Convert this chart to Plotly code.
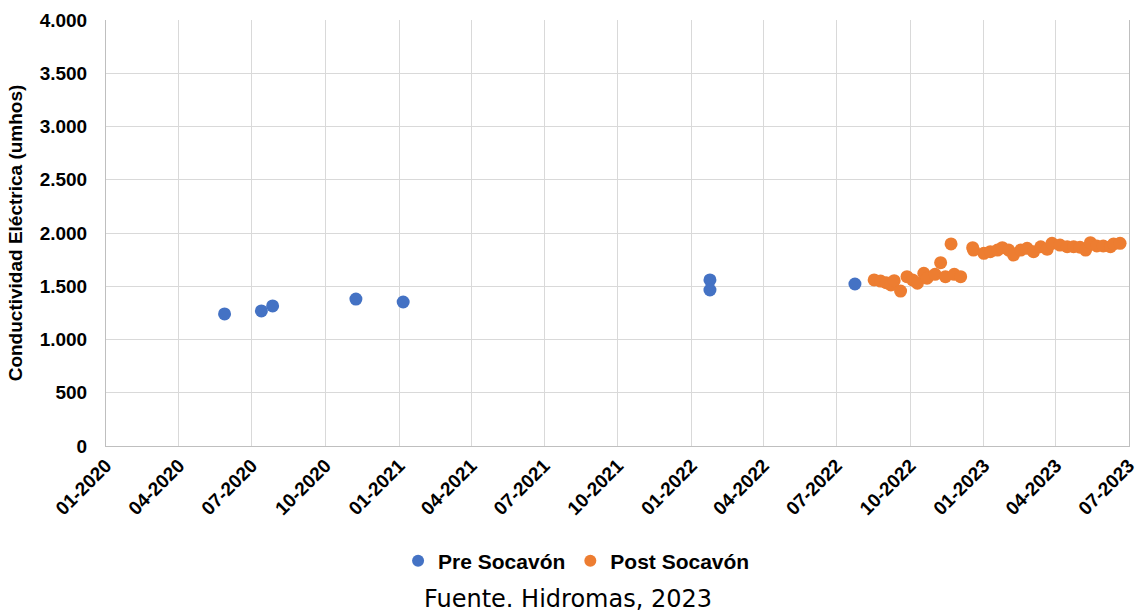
import plotly.graph_objects as go

pre_dates = ["2020-05-28", "2020-07-13", "2020-07-27", "2020-11-08", "2021-01-06",
             "2022-01-24", "2022-01-24", "2022-07-24"]
pre_values = [1240, 1268, 1315, 1380, 1352, 1559, 1465, 1521]

post_dates = ["2022-08-17", "2022-08-25", "2022-09-01", "2022-09-07", "2022-09-11",
              "2022-09-19", "2022-09-27", "2022-10-04", "2022-10-10", "2022-10-18",
              "2022-10-22", "2022-11-01", "2022-11-08", "2022-11-14", "2022-11-21",
              "2022-11-25", "2022-12-03", "2022-12-18", "2022-12-19", "2023-01-01",
              "2023-01-09", "2023-01-18", "2023-01-24", "2023-02-01", "2023-02-07",
              "2023-02-16", "2023-02-24", "2023-03-04", "2023-03-13", "2023-03-21",
              "2023-03-27", "2023-04-06", "2023-04-15", "2023-04-23", "2023-05-01",
              "2023-05-08", "2023-05-14", "2023-05-22", "2023-05-30", "2023-06-08",
              "2023-06-12", "2023-06-20"]
post_values = [1559, 1549, 1533, 1512, 1552, 1455, 1590, 1559, 1528, 1622,
               1575, 1612, 1721, 1590, 1897, 1612, 1590, 1862, 1840, 1809,
               1825, 1840, 1862, 1840, 1793, 1840, 1856, 1825, 1871, 1847,
               1903, 1887, 1871, 1871, 1866, 1840, 1909, 1878, 1878, 1871,
               1897, 1903]

FONT = "Liberation Sans, Arial, sans-serif"

fig = go.Figure()
fig.add_trace(go.Scatter(x=pre_dates, y=pre_values, mode="markers", name="Pre Socavón",
                         marker=dict(color="#4472C4", size=13)))
fig.add_trace(go.Scatter(x=post_dates, y=post_values, mode="markers", name="Post Socavón",
                         marker=dict(color="#ED7D31", size=13)))

fig.update_layout(
    width=1137, height=616,
    margin=dict(l=106, r=8, t=20, b=170),
    plot_bgcolor="white", paper_bgcolor="white",
    separators=",.",
    font=dict(family=FONT, color="#000000"),
    showlegend=True,
    legend=dict(orientation="h", x=0.46, xanchor="center", y=-0.27, yanchor="middle",
                font=dict(size=21, family=FONT, weight="bold"),
                itemsizing="constant", itemwidth=30, traceorder="normal"),
    annotations=[dict(text="Fuente. Hidromas, 2023", xref="paper", yref="paper",
                      x=0.452, y=-0.359, xanchor="center", yanchor="middle", showarrow=False,
                      font=dict(family="DejaVu Sans, Verdana, sans-serif", size=24, color="#000"))],
)
fig.update_xaxes(
    type="date", range=["2020-01-01", "2023-07-01 04:00"], automargin=False,
    tick0="2020-01-01", dtick="M3", tickformat="%m-%Y", tickangle=-45,
    ticklabeloverflow="allow",
    showgrid=True, gridcolor="#d9d9d9", gridwidth=1,
    showline=True, linecolor="#bfbfbf", linewidth=1,
    ticks="", zeroline=False,
    tickfont=dict(size=19, family=FONT, weight="bold"),
)
fig.update_yaxes(
    range=[0, 4000], dtick=500, tickformat=",d", automargin=False,
    showgrid=True, gridcolor="#d9d9d9", gridwidth=1,
    showline=True, linecolor="#bfbfbf", linewidth=1, mirror=True,
    ticks="", zeroline=False, ticklabelstandoff=14,
    tickfont=dict(size=19, family=FONT, weight="bold"),
    title=dict(text="Conductividad Eléctrica (umhos)", standoff=12,
               font=dict(size=19, family=FONT, weight="bold")),
)

fig.write_html("out.html", config={"displayModeBar": False},
               post_script="document.body.style.margin='0';")
